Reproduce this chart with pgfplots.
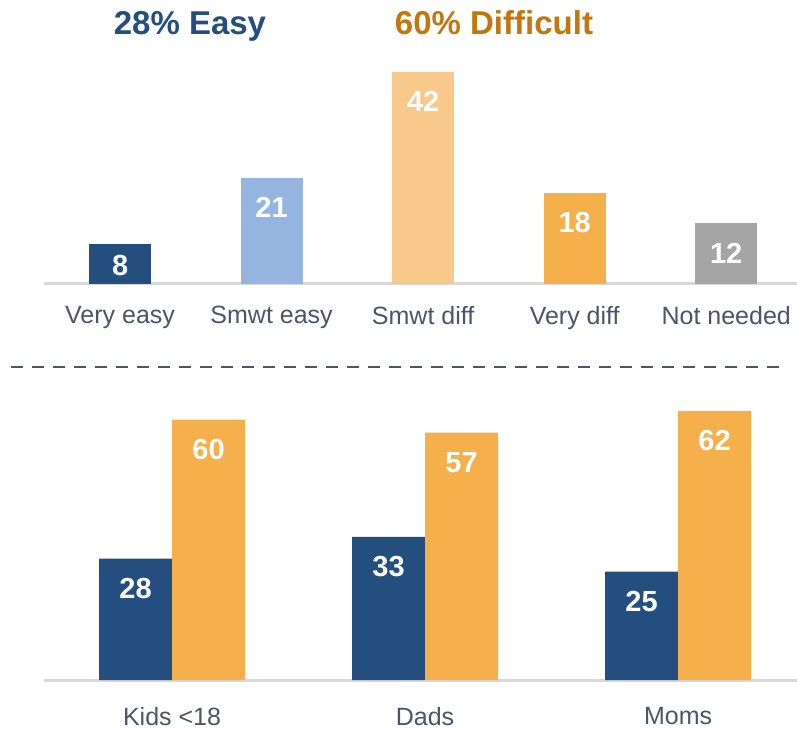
\documentclass[border=0pt]{standalone}
\usepackage{pgfplots}
\pgfplotsset{compat=1.18}
\usepackage{fontspec}
\setmainfont{Liberation Sans}

\definecolor{easyblue}{HTML}{244E7D}
\definecolor{lightblue}{HTML}{95B5E0}
\definecolor{lightorange}{HTML}{F8C98A}
\definecolor{difforange}{HTML}{F5AF4B}
\definecolor{needgray}{HTML}{A5A5A5}
\definecolor{axisgray}{HTML}{D9D9D9}
\definecolor{labelgray}{HTML}{4A5568}
\definecolor{titleorange}{HTML}{C3750E}

\pgfplotsset{
  panel/.style={
    scale only axis,
    axis x line*=bottom,
    axis y line=none,
    axis line style={draw=axisgray, line width=1.5pt},
    xtick style={draw=none},
    ymin=0,
    clip=false,
    xticklabel style={font=\fontsize{12.5}{12.5}\selectfont, text=labelgray, inner sep=0pt},
    /pgf/number format/assume math mode=true,
    nodes near coords,
    every node near coord/.append style={font=\bfseries\fontsize{14.5}{14.5}\selectfont,
      text=white, anchor=north, inner sep=0pt, yshift=-9.5pt},
  },
}

\begin{document}
\begin{tikzpicture}
\path[use as bounding box] (0,0) rectangle (398.5pt,364pt);

% headline totals
\node[anchor=base, font=\bfseries\fontsize{16.5}{16.5}\selectfont, text=easyblue] at (95pt,346.5pt) {28\% Easy};
\node[anchor=base, font=\bfseries\fontsize{16.5}{16.5}\selectfont, text=titleorange] at (247pt,346.5pt) {60\% Difficult};

% top panel: overall distribution
\begin{axis}[panel,
  at={(22pt,222pt)}, anchor=south west,
  width=376.5pt, height=106pt,
  xmin=-0.502, xmax=4.467, ymax=42,
  ybar, bar width=31pt, bar shift=0pt,
  xtick={0,1,2,3,4},
  xticklabels={Very easy, Smwt easy, Smwt diff, Very diff, Not needed},
  xticklabel style={yshift=-6.5pt},
]
\addplot[fill=easyblue, draw=none, every node near coord/.append style={yshift=4pt}] coordinates {(0,8)};
\addplot[fill=lightblue, draw=none] coordinates {(1,21)};
\addplot[fill=lightorange, draw=none] coordinates {(2,42)};
\addplot[fill=difforange, draw=none] coordinates {(3,18)};
\addplot[fill=needgray, draw=none] coordinates {(4,12)};
\end{axis}

\draw[labelgray, line width=1pt, dash pattern=on 6pt off 4.5pt] (5.5pt,180.5pt) -- (393.5pt,180.5pt);

% bottom panel: by group
\begin{axis}[panel,
  at={(22pt,24pt)}, anchor=south west,
  width=376.5pt, height=134.5pt,
  xmin=-0.506, xmax=2.470, ymax=62,
  ybar=0pt, bar width=36.5pt,
  xtick={0,1,2},
  xticklabels={Kids <18, Dads, Moms},
  xticklabel style={yshift=-9pt},
]
\addplot[fill=easyblue, draw=none] coordinates {(0,28) (1,33) (2,25)};
\addplot[fill=difforange, draw=none] coordinates {(0,60) (1,57) (2,62)};
\end{axis}
\end{tikzpicture}
\end{document}
